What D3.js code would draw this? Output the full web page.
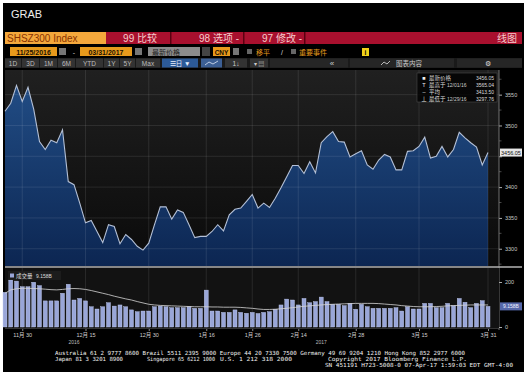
<!DOCTYPE html>
<html>
<head>
<meta charset="utf-8">
<script src="https://cdn.jsdelivr.net/npm/d3@7"></script>
<style>
body { margin: 0; background: #fff; }
svg { display: block; }
</style>
</head>
<body>
<script>
// trading days 11/25/2016 - 03/31/2017
var days = [
  "2016-11-25","2016-11-28","2016-11-29","2016-11-30","2016-12-01","2016-12-02",
  "2016-12-05","2016-12-06","2016-12-07","2016-12-08","2016-12-09",
  "2016-12-12","2016-12-13","2016-12-14","2016-12-15","2016-12-16",
  "2016-12-19","2016-12-20","2016-12-21","2016-12-22","2016-12-23",
  "2016-12-26","2016-12-27","2016-12-28","2016-12-29","2016-12-30",
  "2017-01-03","2017-01-04","2017-01-05","2017-01-06",
  "2017-01-09","2017-01-10","2017-01-11","2017-01-12","2017-01-13",
  "2017-01-16","2017-01-17","2017-01-18","2017-01-19","2017-01-20",
  "2017-01-23","2017-01-24","2017-01-25","2017-01-26",
  "2017-02-03","2017-02-06","2017-02-07","2017-02-08","2017-02-09","2017-02-10",
  "2017-02-13","2017-02-14","2017-02-15","2017-02-16","2017-02-17",
  "2017-02-20","2017-02-21","2017-02-22","2017-02-23","2017-02-24",
  "2017-02-27","2017-02-28","2017-03-01","2017-03-02","2017-03-03",
  "2017-03-06","2017-03-07","2017-03-08","2017-03-09","2017-03-10",
  "2017-03-13","2017-03-14","2017-03-15","2017-03-16","2017-03-17",
  "2017-03-20","2017-03-21","2017-03-22","2017-03-23","2017-03-24",
  "2017-03-27","2017-03-28","2017-03-29","2017-03-30","2017-03-31"
];

// closing price (SHSZ300)
var price = [
  3523, 3536, 3565.04, 3539, 3562, 3526, 3474, 3461, 3476, 3472, 3493,
  3409, 3404, 3374, 3342, 3346, 3328, 3310, 3339, 3336, 3308,
  3323, 3315, 3304, 3297.76, 3309, 3339, 3368, 3368, 3348, 3363,
  3359, 3339, 3318, 3320, 3320, 3328, 3339, 3329, 3355, 3364,
  3366, 3377, 3388, 3366, 3374, 3367, 3382, 3399, 3417, 3435,
  3435, 3422, 3441, 3423, 3472, 3482, 3490, 3474, 3473, 3449,
  3454, 3459, 3436, 3429, 3444, 3453, 3449, 3428, 3428, 3458,
  3459, 3466, 3481, 3447, 3450, 3466, 3449, 3461, 3489, 3480,
  3472, 3465, 3436, 3456.05
];

// volume bars
var volume = [
  154, 209, 204, 179, 179, 199, 184, 116, 116, 116, 150,
  190, 120, 127, 116, 90, 80, 90, 108, 93, 98,
  90, 76, 68, 71, 71, 90, 93, 90, 86, 86,
  86, 90, 83, 83, 164, 71, 71, 65, 65, 76,
  65, 61, 65, 60, 65, 68, 79, 98, 124, 120,
  98, 127, 108, 113, 133, 113, 101, 101, 95, 105,
  79, 101, 90, 83, 83, 83, 83, 86, 71, 90,
  80, 80, 105, 105, 86, 86, 105, 95, 127, 110,
  86, 105, 117, 91.6
];

// volume moving average line
var volMA = [
  150, 165, 170, 172, 172, 171, 170, 168, 166, 165, 167,
  170, 171, 170, 167, 162, 156, 150, 144, 137, 131,
  125, 120, 113, 107, 101, 98, 96, 95, 94, 93,
  92, 91, 90, 90, 90, 89, 89, 88, 88, 88,
  87, 85, 83, 80, 78, 78, 79, 81, 83, 86,
  89, 92, 94, 96, 98, 100, 101, 102, 103, 104,
  105, 105, 105, 105, 104, 102, 100, 98, 95, 93,
  91, 90, 90, 90, 91, 92, 94, 95, 96, 97,
  98, 98, 98, 98
];

var dayTicks = ["2016-11-30","2016-12-15","2016-12-30","2017-01-16","2017-01-26",
                "2017-02-14","2017-02-28","2017-03-15","2017-03-31"];
var dayTickLabels = ["11月 30","12月 15","12月 30","1月 16","1月 26","2月 14","2月 28","3月 15","3月 31"];
var yearDays = ["2016-12-13","2017-02-20"];
var yearLabels = ["2016","2017"];
var priceTicks = [3300, 3350, 3400, 3450, 3500, 3550];
var volTicks = [0, 200];

var legendRows = [
  ["■", "最新价格", "", "3456.05"],
  ["T", "最高于", "12/01/16", "3565.04"],
  ["–", "平均", "", "3413.50"],
  ["⊥", "最低于", "12/29/16", "3297.76"]
];

var FONT = "'Liberation Sans', 'Noto Sans CJK SC', sans-serif";

var svg = d3.select("body").append("svg")
    .attr("width", 530)
    .attr("height", 383)
    .style("font-family", FONT);

var defs = svg.append("defs");
var bg = defs.append("linearGradient").attr("id", "plotBg")
    .attr("x1", 0).attr("y1", 0).attr("x2", 0).attr("y2", 1);
bg.append("stop").attr("offset", "0%").attr("stop-color", "#202020");
bg.append("stop").attr("offset", "100%").attr("stop-color", "#0a0a0a");
var ag = defs.append("linearGradient").attr("id", "areaFill")
    .attr("gradientUnits", "userSpaceOnUse")
    .attr("x1", 0).attr("y1", 85).attr("x2", 0).attr("y2", 266);
ag.append("stop").attr("offset", "0%").attr("stop-color", "#214c84");
ag.append("stop").attr("offset", "100%").attr("stop-color", "#0c2652");

// helpers
function box(x, y, w, h, fill) {
    return svg.append("rect").attr("x", x).attr("y", y).attr("width", w).attr("height", h).attr("fill", fill);
}
function label(x, y, txt, size, color, anchor) {
    return svg.append("text").attr("x", x).attr("y", y)
        .attr("font-size", size).attr("fill", color)
        .attr("text-anchor", anchor || "start").text(txt);
}

// terminal frame
box(3, 3, 521, 369, "#000");
label(11, 18, "GRAB", 11, "#eee");

// row 1: security + red menu bar
box(106, 32, 416, 12, "#a8102e");
box(5, 32, 101, 12, "#f4a83c");
label(7, 41.5, "SHSZ300 Index", 10, "#8a3200");
[170, 243, 304].forEach(x => box(x, 32, 1.5, 12, "#5a0010"));
label(157, 41.5, "99 比较", 10, "#f6cccc", "end");
label(239, 41.5, "98 选项 -", 10, "#f6cccc", "end");
label(302, 41.5, "97 修改 -", 10, "#f6cccc", "end");
label(517, 41.5, "线图", 10, "#f6cccc", "end");

// row 2: dates etc
box(10, 47, 47, 9, "#e89a1c");
label(33.5, 54.5, "11/25/2016", 7, "#201000", "middle").attr("font-weight", "bold");
box(59, 48, 7, 7, "#777");
label(74, 54.5, "-", 7, "#ccc", "middle");
box(80, 47, 52, 9, "#e89a1c");
label(106, 54.5, "03/31/2017", 7, "#201000", "middle").attr("font-weight", "bold");
box(135, 48, 7, 7, "#777");
box(148, 47, 52, 9, "#8c8c8c");
label(152, 54.5, "最新价格", 7, "#222");
box(202, 47, 8, 9, "#444");
box(213, 47, 17, 9, "#e89a1c");
label(221.5, 54.5, "CNY", 6.5, "#201000", "middle").attr("font-weight", "bold");
box(233, 48, 6, 7, "#777");
box(247, 49, 5, 5, "#666");
label(256, 54.5, "移平", 7, "#e89a1c");
label(282, 54.5, "/", 7, "#ddd", "middle");
box(291, 49, 5, 5, "#666");
label(299, 54.5, "重要事件", 7, "#e89a1c");
box(362, 48, 7, 8, "#f2d21a");
label(365.5, 54.5, "i", 6.5, "#000", "middle").attr("font-weight", "bold");

// row 3: buttons
box(5, 58, 517, 10, "#1a1a1a");
var btns = [["1D", 5, 16], ["3D", 22, 17], ["1M", 40, 17], ["6M", 58, 17], ["YTD", 76, 27],
            ["1Y", 104, 15], ["5Y", 120, 15], ["Max", 136, 24]];
btns.forEach(b => {
    box(b[1], 58.5, b[2], 9, "#333");
    label(b[1] + b[2] / 2, 65.5, b[0], 6.5, "#bdbdbd", "middle");
});
box(162, 58.5, 36, 9, "#2c5a98");
label(180, 65.5, "☰日 ▼", 6.5, "#e8eefa", "middle");
box(201, 58.5, 21, 9, "#3c5f94");
svg.append("path").attr("d", "M205,65 L209,62 L213,64 L218,61").attr("stroke", "#dde6f5").attr("fill", "none").attr("stroke-width", 0.8);
box(225, 58.5, 22, 9, "#333");
label(236, 65.5, "1↓", 6.5, "#ccc", "middle");
box(250, 58.5, 18, 9, "#333");
label(259, 65.5, "▾ ▤", 6, "#ccc", "middle");
box(270, 58.5, 78, 9, "#262626");
label(332, 65.5, "«", 8, "#ccc", "middle");
box(350, 58.5, 104, 9, "#262626");
svg.append("path").attr("d", "M381,65 L384,62 L387,64 L390,61").attr("stroke", "#ddd").attr("fill", "none").attr("stroke-width", 0.8);
label(396, 65.5, "图表内容", 6.5, "#ccc");
box(457, 58.5, 65, 9, "#262626");
label(488, 66, "⚙", 7, "#ddd", "middle");

// ---------- price panel ----------
var x = d3.scalePoint().domain(days).range([5, 488]);
var y = d3.scaleLinear().domain([3272, 3590]).range([266, 70]);
var yv = d3.scaleLinear().domain([0, 200]).range([327, 282]);

box(5, 70, 494, 196, "url(#plotBg)");

var area = d3.area().x(d => x(d[0])).y0(266).y1(d => y(d[1]));
var line = d3.line().x(d => x(d[0])).y(d => y(d[1]));
var pts = days.map((d, i) => [d, price[i]]);

svg.append("path").datum(pts).attr("d", area).attr("fill", "url(#areaFill)");

// gridlines (over the fill, faint)
svg.append("g").selectAll("line").data(priceTicks).enter().append("line")
    .attr("x1", 5).attr("x2", 499)
    .attr("y1", d => y(d)).attr("y2", d => y(d))
    .attr("stroke", "#fff").attr("stroke-opacity", 0.12).attr("stroke-width", 0.8);
svg.append("g").selectAll("line").data(dayTicks).enter().append("line")
    .attr("x1", d => x(d)).attr("x2", d => x(d))
    .attr("y1", 70).attr("y2", 266)
    .attr("stroke", "#fff").attr("stroke-opacity", 0.12).attr("stroke-width", 0.8);

svg.append("path").datum(pts).attr("d", line)
    .attr("fill", "none").attr("stroke", "#b4c0d6").attr("stroke-width", 1.1);

// right axis (3450 label sits under the last-price tag)
var pAxis = svg.append("g").attr("transform", "translate(499,0)")
    .call(d3.axisRight(y).tickValues(priceTicks).tickSize(3).tickPadding(3)
        .tickFormat(d => d == 3450 ? "" : d3.format("d")(d)));
pAxis.select(".domain").remove();
pAxis.selectAll("line").attr("stroke", "#aaa");
pAxis.selectAll("text").attr("fill", "#c8c8c8").attr("font-size", 5.5).attr("font-family", FONT);
svg.append("g").selectAll("line")
    .data(d3.range(3275, 3590, 25).filter(v => v % 50 != 0)).enter().append("line")
    .attr("x1", 499).attr("x2", 501.5)
    .attr("y1", d => y(d)).attr("y2", d => y(d)).attr("stroke", "#777").attr("stroke-width", 0.6);
svg.append("line").attr("x1", 499).attr("x2", 499).attr("y1", 70).attr("y2", 330)
    .attr("stroke", "#8a8a8a").attr("stroke-width", 0.8);

// last price tag
var lastY = y(price[price.length - 1]);
box(500, lastY - 4, 22, 8, "#e6e6e6");
label(511, lastY + 2, d3.format(".2f")(price[price.length - 1]), 5.5, "#111", "middle");

// legend
svg.append("rect").attr("x", 417).attr("y", 73).attr("width", 80).attr("height", 29)
    .attr("fill", "#000").attr("fill-opacity", 0.8).attr("stroke", "#4a4a4a").attr("stroke-width", 0.6);
legendRows.forEach((r, i) => {
    var yy = 79.5 + i * 7;
    label(424, yy, r[0], 5.5, "#eee", "middle");
    label(429, yy, r[1], 5.5, "#ddd");
    label(447, yy, r[2], 5, "#ccc");
    label(494, yy, r[3], 5, "#ddd", "end");
});

// ---------- volume panel ----------
box(5, 268, 494, 60, "#121212");
svg.append("line").attr("x1", 5).attr("x2", 522).attr("y1", 267).attr("y2", 267)
    .attr("stroke", "#b5b5b5").attr("stroke-width", 1.4);
svg.append("g").selectAll("line").data(dayTicks).enter().append("line")
    .attr("x1", d => x(d)).attr("x2", d => x(d))
    .attr("y1", 268).attr("y2", 328)
    .attr("stroke", "#fff").attr("stroke-opacity", 0.12).attr("stroke-width", 0.8);

svg.append("g").selectAll("rect").data(days).enter().append("rect")
    .attr("x", d => x(d) - 2)
    .attr("width", 4)
    .attr("y", (d, i) => yv(volume[i]))
    .attr("height", (d, i) => yv(0) - yv(volume[i]))
    .attr("fill", "#99a6d8")
    .attr("stroke", "#c4cdf0").attr("stroke-width", 0.4);

svg.append("path").datum(days.map((d, i) => [d, volMA[i]]))
    .attr("d", d3.line().x(d => x(d[0])).y(d => yv(d[1])))
    .attr("fill", "none").attr("stroke", "#d6d6d6").attr("stroke-width", 0.8);

// volume legend
box(8, 271, 53, 9, "#1e1e1e").attr("fill-opacity", 0.9);
box(10, 273.5, 4, 4, "#99a6d8");
label(16, 278, "成交量", 5.5, "#ddd");
label(36, 278, "9.158B", 5, "#ddd");

var vAxis = svg.append("g").attr("transform", "translate(499,0)")
    .call(d3.axisRight(yv).tickValues(volTicks).tickSize(3).tickPadding(3));
vAxis.select(".domain").remove();
vAxis.selectAll("line").attr("stroke", "#aaa");
vAxis.selectAll("text").attr("fill", "#c8c8c8").attr("font-size", 5.5).attr("font-family", FONT);

var lastV = yv(volume[volume.length - 1]);
box(500, lastV - 4, 22, 8, "#5668aa");
label(511, lastV + 2, "9.158B", 5, "#f0f0ff", "middle");

// x axis
svg.append("line").attr("x1", 5).attr("x2", 499).attr("y1", 328.5).attr("y2", 328.5)
    .attr("stroke", "#555").attr("stroke-width", 0.6);
var xAxis = svg.append("g").attr("transform", "translate(0,329)")
    .call(d3.axisBottom(x).tickValues(dayTicks).tickSize(2).tickPadding(2)
        .tickFormat((d, i) => dayTickLabels[i]));
xAxis.select(".domain").remove();
xAxis.selectAll("line").attr("stroke", "#888");
xAxis.selectAll("text").attr("fill", "#cfcfcf").attr("font-size", 5.5).attr("font-family", FONT);

svg.append("g").selectAll("text").data(yearDays).enter().append("text")
    .attr("x", d => x(d)).attr("y", 344)
    .attr("text-anchor", "middle").attr("font-size", 5).attr("fill", "#bbb")
    .text((d, i) => yearLabels[i]);

// footer
var mono = "'DejaVu Sans Mono', 'Liberation Mono', monospace";
function foot(xx, yy, txt, len) {
    var t = label(xx, yy, txt, 5.6, "#f0f0f0").attr("font-family", mono);
    if (len) t.attr("textLength", len).attr("lengthAdjust", "spacingAndGlyphs");
    return t;
}
foot(55, 355, "Australia 61 2 9777 8600 Brazil 5511 2395 9000 Europe 44 20 7330 7500 Germany 49 69 9204 1210 Hong Kong 852 2977 6000", 410);
foot(55, 361, "Japan 81 3 3201 8900", 68);
foot(147, 361, "Singapore 65 6212 1000", 68);
foot(220, 361, "U.S. 1 212 318 2000", 72);
foot(328, 361, "Copyright 2017 Bloomberg Finance L.P.", 139);
foot(325, 367, "SN 451191 H723-5008-0 07-Apr-17  1:59:03 EDT  GMT-4:00", 188);
</script>
</body>
</html>
